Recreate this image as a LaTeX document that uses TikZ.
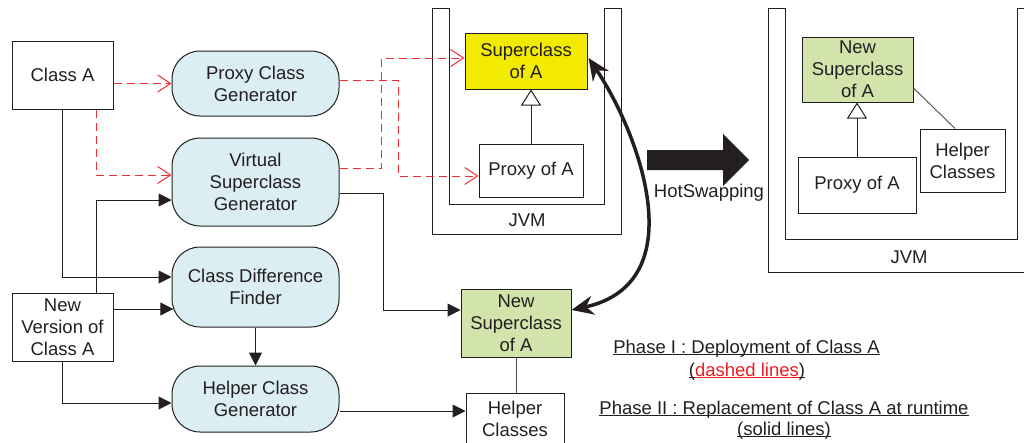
\documentclass[tikz,border=0pt]{standalone}
\usepackage{fontspec}
\setmainfont{Liberation Sans}
\usetikzlibrary{arrows.meta,calc}
\definecolor{txt}{RGB}{35,31,32}
\definecolor{pillblue}{RGB}{218,238,244}
\definecolor{yel}{RGB}{242,234,0}
\definecolor{grn}{RGB}{211,227,172}
\definecolor{dred}{RGB}{240,45,50}
\definecolor{tred}{RGB}{237,28,36}
\newcommand\myul[1]{\underline{\smash{#1}}}
\begin{document}
\begin{tikzpicture}[x=1pt,y=-1pt,
  font=\fontsize{18.5}{22}\selectfont, text=txt,
  box/.style={draw=txt, line width=1pt, align=center, inner sep=0pt},
  pill/.style={box, fill=pillblue, rounded corners=28pt},
  solidarr/.style={draw=txt, line width=1pt, -{Triangle[length=13pt,width=13pt]}},
  dasharr/.style={draw=dred, line width=1pt, dash pattern=on 8pt off 5pt, -{Straight Barb[length=13pt,width=17pt,line width=1pt]}},
  inh/.style={draw=txt, line width=1pt, -{Triangle[open,length=16pt,width=20pt,line width=1pt]}},
  thinline/.style={draw=txt!80, line width=0.9pt},
  wall/.style={draw=txt, line width=1pt}]
\useasboundingbox (0,0) rectangle (1024,442);

% JVM containers
\draw[wall] (432,8) -- (432,234) -- (621,234) -- (621,8) -- (604,8) -- (604,204) -- (449,204) -- (449,8) -- cycle;
\draw[wall] (768,8) -- (768,272) -- (1030,272) -- (1030,8) -- (1017,8) -- (1017,239) -- (785,239) -- (785,8) -- cycle;
\node (jvm1) at (527,220) {JVM};
\node (jvm2) at (909,257) {JVM};

% left side nodes
\node[box, minimum width=101pt, minimum height=68pt] (ClassA) at (62.5,75) {Class A};
\node[box, minimum width=101pt, minimum height=68pt] (NewVer) at (62.5,327) {New\\Version of\\Class A};
\node[pill, minimum width=167pt, minimum height=65pt] (ProxyGen) at (255.5,83.5) {Proxy Class\\Generator};
\node[pill, minimum width=167pt, minimum height=88pt] (VirtGen) at (255.5,182) {Virtual\\Superclass\\Generator};
\node[pill, minimum width=167pt, minimum height=80pt] (DiffFinder) at (255.5,287) {Class Difference\\Finder};
\node[pill, minimum width=167pt, minimum height=66pt] (HelperGen) at (255.5,399) {Helper Class\\Generator};

% middle nodes
\node[box, fill=yel, minimum width=122pt, minimum height=56pt] (Super) at (526,61) {Superclass\\of A};
\node[box, minimum width=104pt, minimum height=53pt] (ProxyA) at (531,170.5) {Proxy of A};
\node[box, fill=grn, minimum width=110pt, minimum height=68pt] (NewSup) at (516,323) {New\\Superclass\\of A};
\node[box, minimum width=98pt, minimum height=51pt] (HelperC) at (515,418.5) {Helper\\Classes};

% right JVM nodes
\node[box, fill=grn, minimum width=111pt, minimum height=65pt] (NewSup2) at (857.5,69.5) {New\\Superclass\\of A};
\node[box, minimum width=118pt, minimum height=56pt] (ProxyA2) at (857,185) {Proxy of A};
\node[box, minimum width=85pt, minimum height=63pt] (HelperC2) at (962.5,160.5) {Helper\\Classes};

% helper coordinates
\coordinate (cx1) at (96,0);
\coordinate (xr) at (383,0);
\coordinate (xd1) at (381,0);
\coordinate (xd2) at (398,0);

% dashed (phase I)
\draw[dasharr] (ClassA.east |- ProxyGen.west) -- (ProxyGen.west);
\draw[dasharr] (ClassA.south -| cx1) |- ($(VirtGen.west)+(0,-7)$);
\coordinate (pg1) at ($(ProxyGen.east)+(0,-3.5)$);
\coordinate (pa1) at ($(ProxyA.west)+(0,5.5)$);
\draw[dasharr] (pg1) -- (pg1 -| xd2) -- (xd2 |- pa1) -- (pa1);
\coordinate (vg2) at ($(VirtGen.east)+(0,-14)$);
\coordinate (sa1) at ($(Super.west)+(0,-3)$);
\draw[dasharr] (vg2) -- (vg2 -| xd1) -- (xd1 |- sa1) -- (sa1);

% solid (phase II)
\draw[solidarr] (ClassA.south) |- ($(DiffFinder.west)+(0,-10)$);
\draw[solidarr] (NewVer.north -| cx1) |- ($(VirtGen.west)+(0,18)$);
\draw[solidarr] ($(NewVer.east)+(0,-18)$) -- ($(DiffFinder.west)+(1.8,22)$);
\draw[solidarr] (NewVer.south) |- ($(HelperGen.west)+(0,4)$);
\draw[solidarr] (DiffFinder.south) -- (HelperGen.north);
\coordinate (hg1) at ($(HelperGen.east)+(0.9,12)$);
\draw[solidarr] (hg1) -- (hg1 -| HelperC.west);
\coordinate (vg1) at ($(VirtGen.east)+(0,11)$);
\coordinate (ns1) at ($(NewSup.west)+(0,-13)$);
\draw[solidarr] (vg1) -- (vg1 -| xr) -- (xr |- ns1) -- (ns1);
\draw[thinline] (NewSup.south) -- (NewSup.south |- HelperC.north);

% inheritance
\draw[inh] (ProxyA.north) -- (ProxyA.north |- Super.south);
\draw[inh] (ProxyA2.north) -- (ProxyA2.north |- NewSup2.south);
\draw[thinline] ($(NewSup2.east)+(0,18.5)$) -- ($(HelperC2.north)+(-7.5,0)$);

% big arrow
\fill[txt] (647,150) -- (723,150) -- (723,134) -- (749,160) -- (723,186) -- (723,170) -- (647,170) -- cycle;
\node (hot) at (709,193) {HotSwapping};

% hotswap curve
\coordinate (s1) at ($(Super.east)+(1,-3)$);
\coordinate (n1) at ($(NewSup.east)+(0,-13)$);
\draw[line width=3.5pt, draw=txt, {Stealth[length=22pt,width=19pt]}-{Stealth[length=22pt,width=19pt]}]
  (s1) .. controls ($(s1)+(50,74)$) and ($(n1)+(124,-27)$) .. (n1);

% legend
\node[anchor=base] (ph1) at (746.5,353) {\myul{Phase I : Deployment of Class A}};
\node[anchor=base] (ph1b) at (747,376) {\myul{(}\textcolor{tred}{\myul{dashed lines}}\myul{)}};
\node[anchor=base] (ph2) at (784,414) {\myul{Phase II : Replacement of Class A at runtime}};
\node[anchor=base] (ph2b) at (784,435) {\myul{(solid lines)}};
\end{tikzpicture}
\end{document}
